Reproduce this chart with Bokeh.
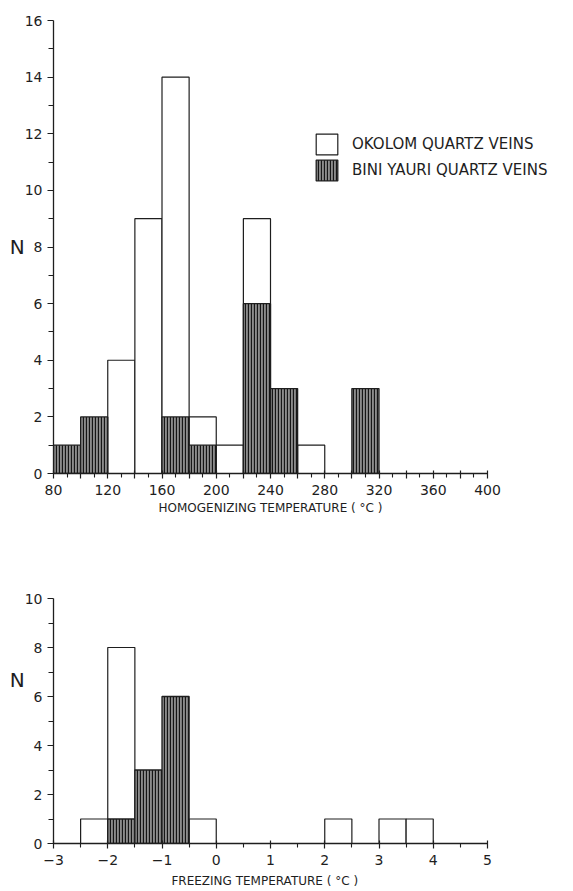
from bokeh.plotting import figure
from bokeh.models import FixedTicker, Legend, LegendItem, Title
from bokeh.layouts import column
from bokeh.embed import file_html
from bokeh.resources import INLINE

# ---- data: homogenizing temperature histogram (bin edges, °C) ----
homog_left = [80, 100, 120, 140, 160, 180, 200, 220, 240, 260, 280, 300, 320, 340, 360, 380]
homog_right = [100, 120, 140, 160, 180, 200, 220, 240, 260, 280, 300, 320, 340, 360, 380, 400]
homog_okolom = [0, 0, 4, 9, 14, 2, 1, 9, 0, 1, 0, 0, 0, 0, 0, 0]
homog_bini = [1, 2, 0, 0, 2, 1, 0, 6, 3, 0, 0, 3, 0, 0, 0, 0]

# ---- data: freezing temperature histogram (bin edges, °C) ----
freeze_left = [-3, -2.5, -2, -1.5, -1, -0.5, 0, 0.5, 1, 1.5, 2, 2.5, 3, 3.5, 4, 4.5]
freeze_right = [-2.5, -2, -1.5, -1, -0.5, 0, 0.5, 1, 1.5, 2, 2.5, 3, 3.5, 4, 4.5, 5]
freeze_okolom = [0, 1, 8, 0, 0, 1, 0, 0, 0, 0, 1, 0, 1, 1, 0, 0]
freeze_bini = [0, 0, 1, 3, 6, 0, 0, 0, 0, 0, 0, 0, 0, 0, 0, 0]

# ---- tick definitions ----
homog_major = [80, 100, 120, 140, 160, 180, 200, 220, 240, 260, 280, 300, 320, 340, 360, 380, 400]
homog_minor = [90, 110, 130, 150, 170, 190, 210, 230, 250, 270, 290, 310, 330, 350, 370, 390]
homog_labels = {80: "80", 120: "120", 160: "160", 200: "200", 240: "240",
                280: "280", 320: "320", 360: "360", 400: "400"}
homog_y_major = [0, 2, 4, 6, 8, 10, 12, 14, 16]
homog_y_minor = [1, 3, 5, 7, 9, 11, 13, 15]

freeze_major = [-3, -2, -1, 0, 1, 2, 3, 4, 5]
freeze_minor = [-2.5, -1.5, -0.5, 0.5, 1.5, 2.5, 3.5, 4.5]
freeze_y_major = [0, 2, 4, 6, 8, 10]
freeze_y_minor = [1, 3, 5, 7, 9]

series_names = ["OKOLOM QUARTZ VEINS", "BINI YAURI QUARTZ VEINS"]
x_titles = ["HOMOGENIZING  TEMPERATURE   ( °C )", "FREEZING  TEMPERATURE   ( °C )"]

INK = "#1e1e1e"
FONT = "DejaVu Sans"
DARK_FILL = "#8c8c8c"

# layout (pixels)
FIG_W = 573
AX_LEFT = 53      # left edge of the axes
AX_W = 434        # horizontal axis length
TOP_FRAME_H = 453
TOP_FIG_H = 515
TOP_TITLE_X = 158  # left edge of the upper x title
BOT_AX_H = 245    # vertical axis length of lower panel
BOT_FRAME_H = 328
BOT_FIG_H = 891 - TOP_FIG_H


def nonzero(left, right, h):
    idx = [i for i, v in enumerate(h) if v > 0]
    return dict(left=[left[i] for i in idx], right=[right[i] for i in idx],
                top=[h[i] for i in idx], bottom=[0] * len(idx))


def style_axes(p, xmaj, xmin, ymaj, ymin, xbounds, ybounds, overrides=None):
    p.grid.visible = False
    p.outline_line_color = None
    p.background_fill_color = "white"
    p.border_fill_color = "white"
    for ax in p.axis:
        ax.axis_line_color = INK
        ax.axis_line_width = 1.3
        ax.major_tick_line_color = INK
        ax.minor_tick_line_color = INK
        ax.major_tick_line_width = 1.2
        ax.minor_tick_line_width = 1.1
        ax.major_label_text_font = FONT
        ax.major_label_text_font_size = "14px"
        ax.major_label_text_color = INK
        ax.axis_label_text_font = FONT
        ax.axis_label_text_font_style = "normal"
        ax.axis_label_text_color = INK
    xa = p.xaxis[0]
    xa.bounds = xbounds
    xa.ticker = FixedTicker(ticks=xmaj, minor_ticks=xmin)
    xa.major_tick_in = 3
    xa.major_tick_out = 5
    xa.minor_tick_in = 0
    xa.minor_tick_out = 4
    xa.major_label_standoff = 6
    xa.axis_label_text_font_size = "12px"
    xa.axis_label_standoff = 4
    if overrides is not None:
        xa.major_label_overrides = overrides
    ya = p.yaxis[0]
    ya.bounds = ybounds
    ya.ticker = FixedTicker(ticks=ymaj, minor_ticks=ymin)
    ya.major_tick_in = 0
    ya.major_tick_out = 6
    ya.minor_tick_in = 0
    ya.minor_tick_out = 5
    ya.major_label_standoff = 5
    ya.axis_label = "N"
    ya.axis_label_orientation = "horizontal"
    ya.axis_label_text_font_size = "20px"
    ya.axis_label_standoff = -3


def draw_bars(p, left, right, okolom, bini):
    r_ok = p.quad(source=nonzero(left, right, okolom), left="left", right="right",
                  top="top", bottom="bottom", fill_color="white",
                  line_color=INK, line_width=1.2)
    r_bi = p.quad(source=nonzero(left, right, bini), left="left", right="right",
                  top="top", bottom="bottom", fill_color=DARK_FILL,
                  hatch_pattern="|", hatch_scale=3, hatch_weight=1.3,
                  hatch_color="#161616", line_color=INK, line_width=1.3)
    return r_ok, r_bi


# ---------------- top figure ----------------
x1_lo, x1_hi = homog_left[0], homog_right[-1]
s1 = AX_W / (x1_hi - x1_lo)
top_frame_w = FIG_W - AX_LEFT
p1 = figure(frame_width=top_frame_w, frame_height=TOP_FRAME_H,
            x_range=(x1_lo, x1_hi + (top_frame_w - AX_W) / s1), y_range=(0, 16),
            output_backend="svg", toolbar_location=None,
            min_border_left=AX_LEFT, min_border_right=0, min_border_top=20,
            min_border_bottom=TOP_FIG_H - 20 - TOP_FRAME_H)
r1_ok, r1_bi = draw_bars(p1, homog_left, homog_right, homog_okolom, homog_bini)
style_axes(p1, homog_major, homog_minor, homog_y_major, homog_y_minor,
           (x1_lo, x1_hi), (0, 16),
           {k: homog_labels.get(k, "") for k in homog_major})
# x title centred under the axis (not under the wider frame)
p1.add_layout(Title(text=x_titles[0], align="left",
                    offset=TOP_TITLE_X - AX_LEFT, standoff=2,
                    text_font=FONT, text_font_size="12px", text_font_style="normal",
                    text_color=INK), "below")

legend = Legend(items=[LegendItem(label=series_names[0], renderers=[r1_ok]),
                       LegendItem(label=series_names[1], renderers=[r1_bi])],
                location=(260, 290), orientation="vertical",
                glyph_width=27, glyph_height=26, label_height=26,
                spacing=0, padding=0, margin=0, label_standoff=12,
                label_text_font=FONT, label_text_font_size="15px",
                label_text_color=INK, border_line_color=None,
                background_fill_alpha=0)
p1.add_layout(legend, "center")

# ---------------- bottom figure ----------------
x2_lo, x2_hi = freeze_left[0], freeze_right[-1]
y2_hi = freeze_y_major[-1]
p2 = figure(frame_width=AX_W, frame_height=BOT_FRAME_H,
            x_range=(x2_lo, x2_hi), y_range=(0, y2_hi * BOT_FRAME_H / BOT_AX_H),
            output_backend="svg", toolbar_location=None,
            min_border_left=AX_LEFT, min_border_right=FIG_W - AX_LEFT - AX_W,
            min_border_top=0, min_border_bottom=BOT_FIG_H - BOT_FRAME_H)
draw_bars(p2, freeze_left, freeze_right, freeze_okolom, freeze_bini)
style_axes(p2, freeze_major, freeze_minor, freeze_y_major, freeze_y_minor,
           (x2_lo, x2_hi), (0, y2_hi))
p2.xaxis[0].axis_label = x_titles[1]
p2.xaxis[0].axis_label_standoff = 6

layout = column(p1, p2, spacing=0)
open("out.html", "w").write(file_html(layout, INLINE))
